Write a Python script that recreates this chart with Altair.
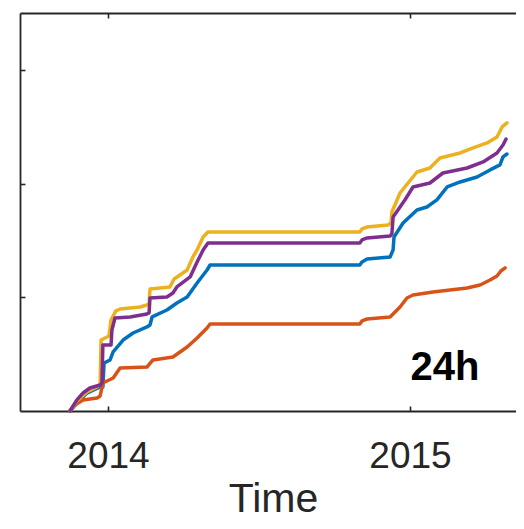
import altair as alt
import pandas as pd

# Decimal-year time stamps and cumulative values (arbitrary units)
blue_x = [2013.874, 2013.897, 2013.930, 2013.974, 2013.983, 2013.987, 2014.007, 2014.017, 2014.050,
          2014.083, 2014.129, 2014.139, 2014.146, 2014.195, 2014.228, 2014.262, 2014.295, 2014.328,
          2014.338, 2014.834, 2014.841, 2014.858, 2014.934, 2014.944, 2014.947, 2014.977, 2015.023,
          2015.056, 2015.089, 2015.123, 2015.166, 2015.222, 2015.265, 2015.298, 2015.308, 2015.321]
blue_y = [0, 0.070, 0.158, 0.211, 0.211, 0.422, 0.449, 0.519, 0.624, 0.686, 0.739, 0.756, 0.827,
          0.888, 0.950, 1.003, 1.126, 1.240, 1.284, 1.284, 1.310, 1.337, 1.354, 1.416, 1.530, 1.653,
          1.768, 1.794, 1.856, 1.970, 2.014, 2.058, 2.120, 2.164, 2.234, 2.260]

orange_x = [2013.874, 2013.891, 2013.917, 2013.964, 2013.974, 2013.983, 2014.017, 2014.040, 2014.129,
            2014.149, 2014.215, 2014.262, 2014.295, 2014.328, 2014.338, 2014.834, 2014.841, 2014.858,
            2014.934, 2014.967, 2014.990, 2015.010, 2015.076, 2015.189, 2015.232, 2015.265, 2015.288,
            2015.301, 2015.315]
orange_y = [0, 0.053, 0.097, 0.114, 0.132, 0.246, 0.290, 0.378, 0.387, 0.449, 0.475, 0.563, 0.642,
            0.730, 0.765, 0.765, 0.792, 0.809, 0.827, 0.915, 0.994, 1.020, 1.047, 1.082, 1.108, 1.152,
            1.187, 1.231, 1.258]

yellow_x = [2013.874, 2013.897, 2013.930, 2013.964, 2013.974, 2013.977, 2013.997, 2014.003, 2014.010,
            2014.026, 2014.040, 2014.106, 2014.129, 2014.136, 2014.139, 2014.205, 2014.219, 2014.262,
            2014.281, 2014.295, 2014.315, 2014.331, 2014.834, 2014.841, 2014.858, 2014.927, 2014.937,
            2014.940, 2014.967, 2015.023, 2015.066, 2015.099, 2015.166, 2015.209, 2015.255, 2015.288,
            2015.305, 2015.321]
yellow_y = [0, 0.088, 0.167, 0.211, 0.237, 0.624, 0.651, 0.660, 0.800, 0.880, 0.897, 0.915, 0.932,
            0.941, 1.073, 1.091, 1.161, 1.240, 1.354, 1.416, 1.530, 1.574, 1.574, 1.601, 1.618, 1.636,
            1.653, 1.750, 1.917, 2.102, 2.137, 2.225, 2.269, 2.313, 2.357, 2.410, 2.498, 2.533]

purple_x = [2013.874, 2013.897, 2013.917, 2013.940, 2013.974, 2013.980, 2013.983, 2014.010, 2014.013,
            2014.023, 2014.073, 2014.129, 2014.136, 2014.139, 2014.195, 2014.215, 2014.228, 2014.272,
            2014.295, 2014.315, 2014.331, 2014.834, 2014.841, 2014.858, 2014.934, 2014.940, 2014.944,
            2014.983, 2015.010, 2015.066, 2015.109, 2015.189, 2015.242, 2015.288, 2015.308, 2015.318]
purple_y = [0, 0.097, 0.158, 0.202, 0.229, 0.246, 0.580, 0.580, 0.712, 0.818, 0.827, 0.853, 0.862,
            0.994, 1.003, 1.038, 1.091, 1.179, 1.310, 1.416, 1.478, 1.478, 1.504, 1.522, 1.539, 1.557,
            1.706, 1.856, 1.970, 2.005, 2.093, 2.137, 2.190, 2.269, 2.339, 2.392]

series_colors = {"blue": "#0072BD", "orange": "#D95319", "yellow": "#EDB120", "purple": "#7E2F8E"}
series_data = {"blue": (blue_x, blue_y), "orange": (orange_x, orange_y),
               "yellow": (yellow_x, yellow_y), "purple": (purple_x, purple_y)}

x_ticks = [2014, 2015]
y_ticks = [1, 2, 3]
x_domain = [2013.7086, 2015.3841]
y_domain = [0, 3.5]

label_text = ["24h"]
label_x = [2015.116]
label_y = [0.273]

FONT = "Liberation Sans"
AX = "#262626"

xs = alt.Scale(domain=x_domain, nice=False, zero=False)
ys = alt.Scale(domain=y_domain, nice=False, zero=False)

# inward ticks (axis pulled 5px into the plot, ticks pointing back to the edge)
tick_axis = dict(offset=-5, tickSize=5, tickWidth=1.6, tickColor=AX, domain=False, grid=False)
# box edges drawn as plain axis lines
edge_axis = dict(offset=0, ticks=False, labels=False, title=None, domain=True,
                 domainColor=AX, domainWidth=1.8, grid=False)

axes = {
    "blue": (
        alt.Axis(orient="bottom", values=x_ticks, format="d", title="Time",
                 labelFontSize=37, labelFont=FONT, labelColor=AX, labelPadding=27,
                 titleFontSize=41, titleFont=FONT, titleColor=AX, titleFontWeight="normal",
                 titlePadding=5, **tick_axis),
        alt.Axis(orient="left", values=y_ticks, labels=False, title=None, **tick_axis),
    ),
    "orange": (
        alt.Axis(orient="bottom", values=x_ticks, **edge_axis),
        alt.Axis(orient="left", values=y_ticks, **edge_axis),
    ),
    "yellow": (
        alt.Axis(orient="top", values=x_ticks, **edge_axis),
        None,
    ),
    "purple": (
        alt.Axis(orient="top", values=x_ticks, labels=False, title=None, **tick_axis),
        alt.Axis(orient="right", values=y_ticks, labels=False, title=None, **tick_axis),
    ),
}

layers = []
for name, (sx, sy) in series_data.items():
    df = pd.DataFrame({"x": sx, "y": sy, "i": range(len(sx))})
    xa, ya = axes[name]
    layers.append(
        alt.Chart(df).mark_line(strokeWidth=3.5, strokeCap="round", strokeJoin="round").encode(
            x=alt.X("x:Q", scale=xs, axis=xa),
            y=alt.Y("y:Q", scale=ys, axis=ya),
            order="i:Q",
            stroke=alt.value(series_colors[name]),
        )
    )

tdf = pd.DataFrame({"x": label_x, "y": label_y, "t": label_text})
text = alt.Chart(tdf).mark_text(font=FONT, fontSize=40, fontWeight="bold", color="#000000",
                                align="center", baseline="alphabetic").encode(
    x=alt.X("x:Q", scale=xs, axis=None),
    y=alt.Y("y:Q", scale=ys, axis=None),
    text="t:N",
)
layers.append(text)

chart = alt.layer(*layers).resolve_axis(x="independent", y="independent").properties(
    width=506, height=398,
    autosize=alt.AutoSizeParams(type="none"),
    padding={"left": 12, "top": 5, "right": -10, "bottom": 110},
).configure_view(strokeWidth=0).configure(background="white")

chart.save("out.html", embed_options={"renderer": "svg", "actions": False})
